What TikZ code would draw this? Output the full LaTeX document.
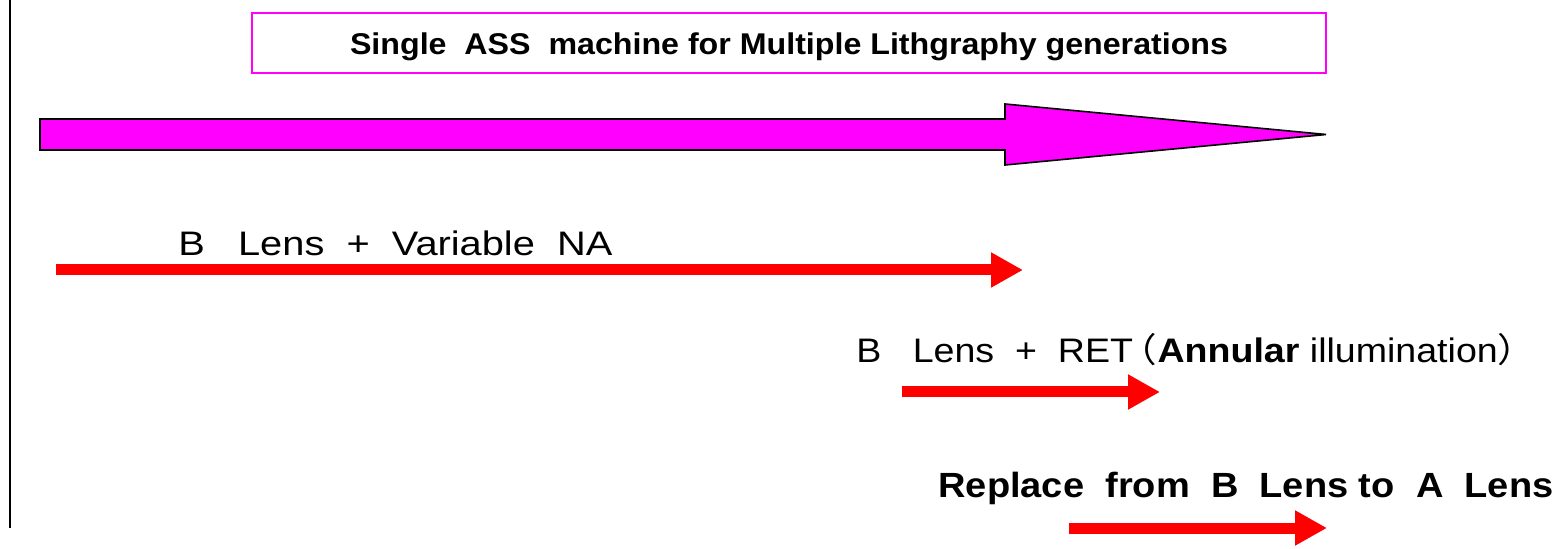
\documentclass[tikz,border=0pt]{standalone}
\usepackage{fontspec}
\usepackage{graphicx}
\setmainfont{Liberation Sans}
\newfontfamily\jpfont{Noto Sans CJK JP}
\usetikzlibrary{arrows.meta}
\definecolor{hotpink}{RGB}{255,0,255}
\definecolor{signalred}{RGB}{255,0,0}
% set a line to a given width, keeping its height (wide gothic lettering)
\newcommand{\widetext}[2]{\resizebox{#1}{\height}{#2}}
\tikzset{
  titlebox/.style={draw=hotpink, line width=1pt, minimum width=537pt, minimum height=30pt, inner sep=0pt,
    font=\fontsize{15pt}{17pt}\selectfont\bfseries},
  bigarrow/.style={fill=hotpink, draw=black, line width=0.8pt, line join=miter},
  redarrow/.style={draw=signalred, line width=5.5pt,
    -{Triangle[length=16pt,width=16.5pt,fill=signalred]}},
  label/.style={anchor=base west, inner sep=0pt, font=\fontsize{17pt}{20pt}\selectfont},
}
\begin{document}
\begin{tikzpicture}[x=0.5pt,y=-0.5pt]
  \useasboundingbox (0,0) rectangle (1566,549);
  % vertical axis on the left
  \coordinate (axtop) at (10,0);
  \coordinate (axbot) at (10,528);
  \draw[line width=1.3pt] (axtop) -- (axbot);

  % title
  \node[titlebox] (title) at (789,43) {};
  \node[anchor=base, inner sep=0pt, font=\fontsize{15pt}{17pt}\selectfont\bfseries] (titletext) at (789,55)
    {\widetext{439pt}{Single~~ASS~~machine for Multiple Lithgraphy generations}};

  % broad magenta arrow
  \draw[bigarrow] (40,119) -- (1005,119) -- (1005,104) -- (1326,134.5) -- (1005,165) -- (1005,150) -- (40,150) -- cycle;

  % first red arrow
  \coordinate (a1s) at (56,270);
  \coordinate (a1e) at (1023,270);
  \draw[redarrow] (a1s) -- (a1e);
  \node[label] (l1) at (178,256) {\widetext{217pt}{B~~~Lens~~+~~Variable~~NA}};

  % second red arrow
  \coordinate (a2s) at (902,392);
  \coordinate (a2e) at (1160,392);
  \draw[redarrow] (a2s) -- (a2e);
  \node[label] (l2) at (856,363) {\widetext{339.5pt}{B~~~Lens~~+~~RET\hspace{-0.35em}{\jpfont （}\textbf{Annular} illumination{\jpfont ）}}};

  % third red arrow
  \coordinate (a3s) at (1069,528);
  \coordinate (a3e) at (1327,528);
  \draw[redarrow] (a3s) -- (a3e);
  \node[label, font=\fontsize{17.5pt}{20pt}\selectfont\bfseries] (l3) at (938,497) {\widetext{307.5pt}{Replace~~from~~B~~Lens to~~A~~Lens}};
\end{tikzpicture}
\end{document}
